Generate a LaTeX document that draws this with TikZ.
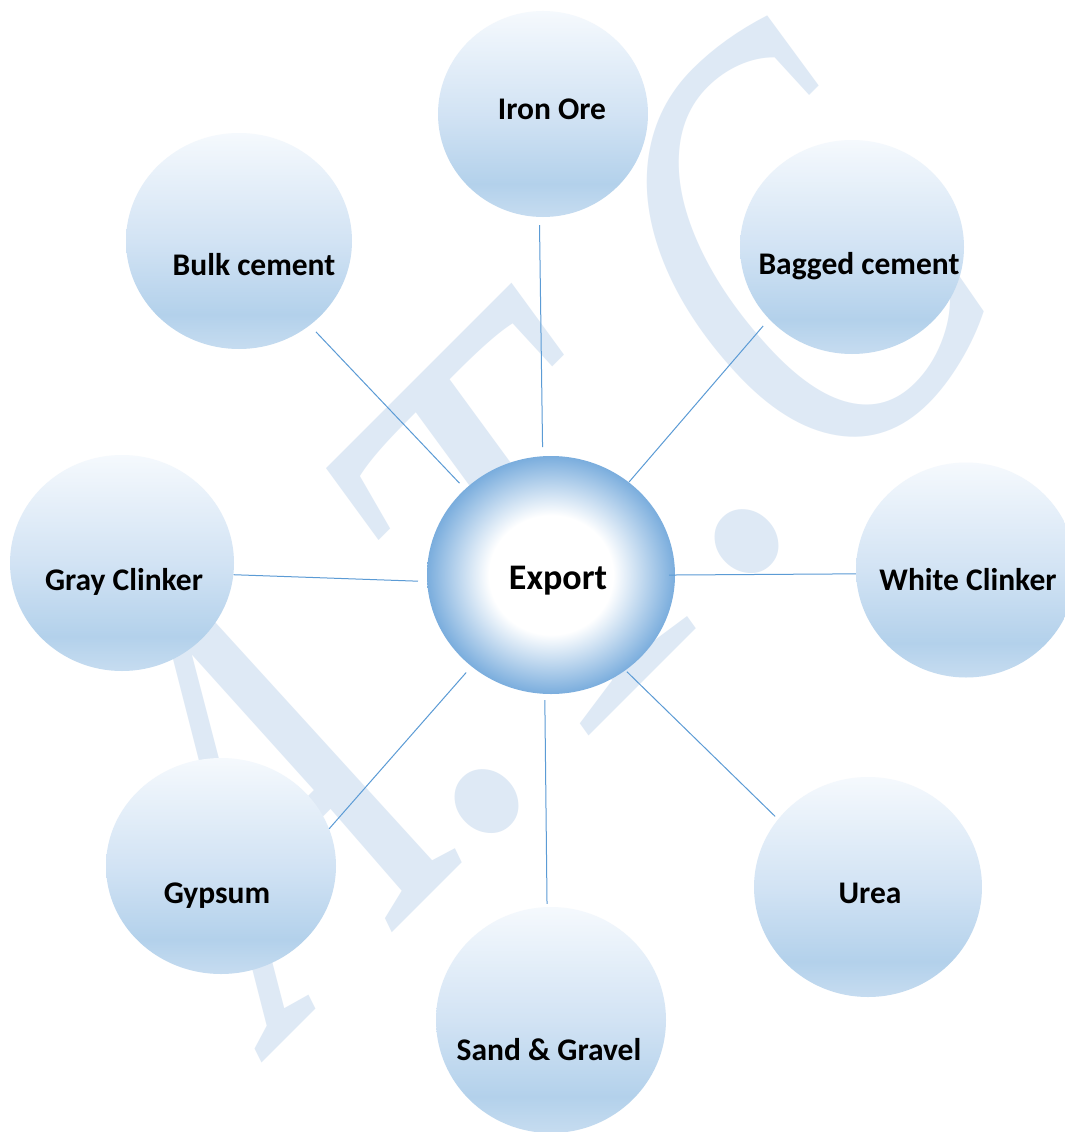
\documentclass[tikz,border=0pt]{standalone}
\usepackage{fontspec}
\setmainfont{Carlito}
\newfontfamily\wmfont{Liberation Serif}
\usetikzlibrary{shapes.geometric}

\definecolor{lineblue}{HTML}{5B9BD5}
\definecolor{wm}{HTML}{DEE9F5}
\definecolor{bT}{HTML}{F5F9FD}
\definecolor{bM}{HTML}{D2E3F4}
\definecolor{bD}{HTML}{B3D1EB}
\definecolor{bB}{HTML}{C6DCF0}
\definecolor{eE}{HTML}{7AADDD}

\pgfdeclareverticalshading{bubble}{100bp}{color(0bp)=(bB); color(25bp)=(bB); color(33bp)=(bD); color(50bp)=(bM); color(75bp)=(bT); color(100bp)=(bT)}
\pgfdeclareradialshading{exportshade}{\pgfpoint{0bp}{0bp}}{color(0bp)=(white); color(12.5bp)=(white); color(25bp)=(eE); color(50bp)=(eE)}

\tikzset{
  bubblenode/.style={ellipse, inner sep=0pt, shade, shading=bubble},
  lbl/.style={font=\bfseries\fontsize{31.5}{31.5}\selectfont, inner sep=0pt, anchor=base},
  conn/.style={draw=lineblue, line width=1pt},
  wmtext/.style={text=wm, font=\wmfont\itshape\fontsize{502}{502}\selectfont, rotate=45, yscale=1.14, inner sep=0pt, anchor=base west}
}

\begin{document}
\begin{tikzpicture}[x=1pt,y=-1pt]
\fill[white] (0,0) rectangle (1065,1132);
\useasboundingbox (0,0) rectangle (1065,1132);

% watermark "A.T.C"
\node[wmtext, xslant=0.22, xscale=0.85] (wmA) at (278.5,1046.5) {A};
\node[wmtext] (wmT) at (469.5,855.5) {.T.};
\node[wmtext, xslant=0.05, yscale=1.05, xscale=0.85] (wmC) at (822,503) {C};

% bubbles
\node[bubblenode, minimum width=210pt, minimum height=206pt] (iron) at (543,114) {};
\node[bubblenode, minimum width=226pt, minimum height=216pt] (bulk) at (239,241) {};
\node[bubblenode, minimum width=224pt, minimum height=214pt] (bagged) at (852,247) {};
\node[bubblenode, minimum width=224pt, minimum height=216pt] (gray) at (122,563) {};
\node[bubblenode, minimum width=220pt, minimum height=215pt] (white) at (966,570) {};
\node[bubblenode, minimum width=230pt, minimum height=216pt] (gypsum) at (221,866) {};
\node[bubblenode, minimum width=228pt, minimum height=220pt] (urea) at (868,887) {};
\node[bubblenode, minimum width=230pt, minimum height=226pt] (sand) at (551,1020) {};
\node[ellipse, inner sep=0pt, shade, shading=exportshade, minimum width=248pt, minimum height=238pt] (export) at (551,575) {};

% labels
\node[lbl] (iront) at (552,119) {Iron Ore};
\node[lbl] (bulkt) at (254,275) {Bulk cement};
\node[lbl] (baggedt) at (859,274) {Bagged cement};
\node[lbl] (grayt) at (124,590) {Gray Clinker};
\node[lbl] (whitet) at (968,590) {White Clinker};
\node[lbl] (gypsumt) at (217,903) {Gypsum};
\node[lbl] (ureat) at (870,903) {Urea};
\node[lbl] (sandt) at (549,1060) {Sand \& Gravel};
\node[lbl, font=\bfseries\fontsize{36}{36}\selectfont] (exportt) at (558,589) {Export};

% connectors
\draw[conn, shorten <=9pt, shorten >=8pt] (bulk.-50) -- (export.135);
\draw[conn, shorten <=8pt, shorten >=9pt] (iron.-92.6) -- (export.94.9);
\draw[conn, shorten <=9pt, shorten >=0pt] (bagged.-139) -- (export.50.4);
\draw[conn, shorten <=0pt, shorten >=9pt] (gray.-6.6) -- (export.-177.4);
\draw[conn, shorten <=0pt, shorten >=-6pt] (white.182) -- (export.0.5);
\draw[conn, shorten <=0pt, shorten >=8pt] (gypsum.19) -- (export.-131.2);
\draw[conn, shorten <=3pt, shorten >=6pt] (sand.92.5) -- (export.-93.2);
\draw[conn, shorten <=4pt, shorten >=2pt] (urea.143) -- (export.-52.3);
\end{tikzpicture}
\end{document}
